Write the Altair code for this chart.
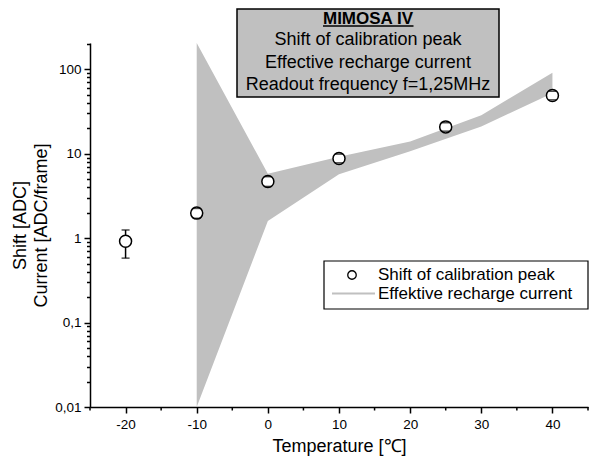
import altair as alt
import pandas as pd

# Shift of calibration peak (points with error bars)
temps = [-20, -10, 0, 10, 25, 40]
shift = [0.92, 1.98, 4.7, 8.8, 20.8, 48.9]
shift_lo = [0.58, 1.72, 4.1, 7.8, 18.5, 43.5]
shift_hi = [1.25, 2.25, 5.35, 9.9, 23.3, 55.0]

# Effective recharge current (shaded band)
band_t = [-10, 0, 10, 20, 30, 40]
band_lo = [0.01, 1.6, 5.7, 10.7, 21.0, 52.0]
band_hi = [205.0, 5.8, 9.2, 14.0, 28.6, 91.0]

x_major = [-20, -10, 0, 10, 20, 30, 40]
x_minor = [-25, -15, -5, 5, 15, 25, 35, 45]
y_ticks = [round(m * 10.0 ** e, 4) for e in range(-2, 3) for m in range(1, 10) if m * 10.0 ** e <= 205]

box_title = "MIMOSA IV"
box_lines = ["Shift of calibration peak", "Effective recharge current", "Readout frequency f=1,25MHz"]
legend_labels = ["Shift of calibration peak", "Effektive recharge current"]

FONT = "Liberation Sans"

pts = pd.DataFrame({"t": temps, "v": shift, "lo": shift_lo, "hi": shift_hi})
band = pd.DataFrame({"t": band_t, "lo": band_lo, "hi": band_hi})
minor = pd.DataFrame({"t": x_minor})
one = pd.DataFrame({"a": [0]})

H = 364
xs = alt.Scale(domain=[-25, 45], nice=False, zero=False)
ys = alt.Scale(type="log", domain=[0.01, 205], nice=False)

decade = "abs(log(datum.value)/LN10 - round(log(datum.value)/LN10)) < 1e-6"

xaxis = alt.Axis(
    values=x_major,
    labelExpr="toString(datum.value)",
    tickSize=6,
    labelOverlap=False,
    title="Temperature [℃]",
    labelPadding=4,
    titlePadding=7,
)
yaxis = alt.Axis(
    values=y_ticks,
    labelExpr=f"({decade}) ? (datum.value >= 1 ? format(datum.value, 'd') : replace(format(datum.value, '~g'), '.', ',')) : ''",
    tickSize={"condition": {"test": decade, "value": 6}, "value": 3.5},
    labelOverlap=False,
    title=["Shift [ADC]", "Current [ADC/frame]"],
    titleLineHeight=21,
    labelPadding=3,
    titlePadding=4,
)

band_layer = alt.Chart(band).mark_area(color="#c0c0c0", opacity=1).encode(
    x=alt.X("t:Q", scale=xs, axis=xaxis),
    y=alt.Y("lo:Q", scale=ys, axis=yaxis),
    y2="hi:Q",
)

minor_ticks = alt.Chart(minor).mark_rule(color="black", strokeWidth=1.5).encode(
    x=alt.X("t:Q", scale=xs), y=alt.value(H), y2=alt.value(H + 3.5)
)

err_rule = alt.Chart(pts).mark_rule(color="black", strokeWidth=1.5).encode(
    x=alt.X("t:Q", scale=xs), y=alt.Y("lo:Q", scale=ys), y2="hi:Q"
)

circles = alt.Chart(pts).mark_point(
    shape="circle", filled=True, fill="white", stroke="black", strokeWidth=1.5, size=144, opacity=1
).encode(x=alt.X("t:Q", scale=xs), y=alt.Y("v:Q", scale=ys))

cap_lo = alt.Chart(pts).mark_tick(orient="horizontal", color="black", thickness=1.5, size=8).encode(
    x=alt.X("t:Q", scale=xs), y=alt.Y("lo:Q", scale=ys)
)
cap_hi = alt.Chart(pts).mark_tick(orient="horizontal", color="black", thickness=1.5, size=8).encode(
    x=alt.X("t:Q", scale=xs), y=alt.Y("hi:Q", scale=ys)
)

# Title box
box = alt.Chart(one).mark_rect(fill="#c0c0c0", stroke="black", strokeWidth=1.5).encode(
    x=alt.value(147), x2=alt.value(409), y=alt.value(-34), y2=alt.value(54)
)
box_t1 = alt.Chart(one).mark_text(
    font=FONT, fontSize=17, fontWeight="bold", align="center", baseline="middle", color="black"
).encode(x=alt.value(278), y=alt.value(-24.5), text=alt.value(box_title))
underline = alt.Chart(one).mark_rule(color="black", strokeWidth=1.5).encode(
    x=alt.value(233), x2=alt.value(323.5), y=alt.value(-17)
)
box_t2 = alt.Chart(one).mark_text(
    font=FONT, fontSize=18, align="center", baseline="middle", color="black", lineHeight=22.5
).encode(x=alt.value(278), y=alt.value(-3), text=alt.value(box_lines))

# Legend
leg_box = alt.Chart(one).mark_rect(fill="white", stroke="black", strokeWidth=1.2).encode(
    x=alt.value(234), x2=alt.value(498), y=alt.value(218), y2=alt.value(266)
)
leg_pt = alt.Chart(one).mark_point(
    shape="circle", filled=True, fill="white", stroke="black", strokeWidth=1.3, size=72, opacity=1
).encode(x=alt.value(262), y=alt.value(232))
leg_line = alt.Chart(one).mark_rule(color="#c0c0c0", strokeWidth=2).encode(
    x=alt.value(242), x2=alt.value(285), y=alt.value(250.5)
)
leg_t1 = alt.Chart(one).mark_text(font=FONT, fontSize=17, align="left", baseline="middle", color="black").encode(
    x=alt.value(288), y=alt.value(231.5), text=alt.value(legend_labels[0])
)
leg_t2 = alt.Chart(one).mark_text(font=FONT, fontSize=17, align="left", baseline="middle", color="black").encode(
    x=alt.value(288), y=alt.value(250.5), text=alt.value(legend_labels[1])
)

chart = alt.layer(
    band_layer, minor_ticks, err_rule, circles, cap_lo, cap_hi,
    box, box_t1, underline, box_t2,
    leg_box, leg_pt, leg_line, leg_t1, leg_t2,
).properties(
    width=498, height=H,
    autosize=alt.AutoSizeParams(type="none"),
    padding={"left": 82, "top": 35, "right": 2, "bottom": 52},
    background="white",
).configure_view(stroke=None).configure_axis(
    grid=False,
    domainColor="black", domainWidth=1.5,
    tickColor="black", tickWidth=1.5,
    labelFont=FONT, labelFontSize=13.5, labelColor="black",
    titleFont=FONT, titleFontSize=18, titleFontWeight="normal", titleColor="black",
)

chart.save("out.html", embed_options={"renderer": "svg", "actions": False})
